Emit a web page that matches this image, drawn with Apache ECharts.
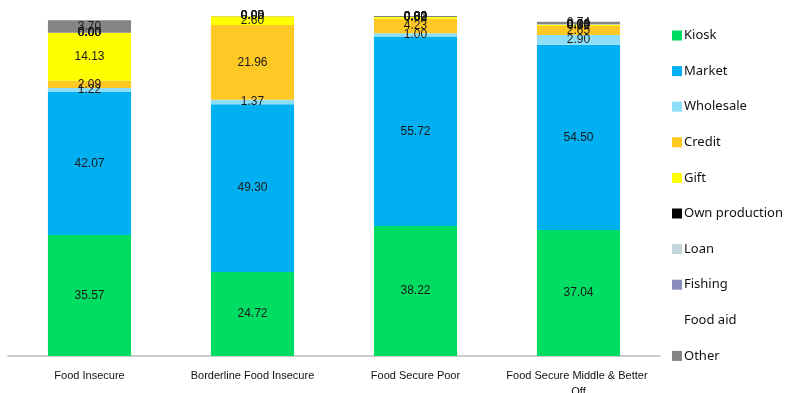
<!DOCTYPE html>
<html>
<head>
<meta charset="utf-8">
<script src="https://cdn.jsdelivr.net/npm/echarts@6/dist/echarts.min.js"></script>
<style>
  html, body { margin: 0; padding: 0; background: #fff; }
  #chart { width: 787px; height: 393px; }
</style>
</head>
<body>
<div id="chart"></div>
<script>
const categories = ['Food Insecure', 'Borderline Food Insecure', 'Food Secure Poor', 'Food Secure Middle & Better Off']

const kiosk = [35.57, 24.72, 38.22, 37.04]
const market = [42.07, 49.30, 55.72, 54.50]
const wholesale = [1.22, 1.37, 1.00, 2.90]
const credit = [2.09, 21.96, 4.23, 2.65]
const gift = [14.13, 2.60, 0.52, 0.31]
const ownProduction = [0.00, 0.00, 0.02, 0.00]
const loan = [0.00, 0.00, 0.00, 0.14]
const fishing = [0.00, 0.00, 0.00, 0.00]
const foodAid = [0.00, 0.00, 0.00, 0.00]
const other = [3.70, 0.05, 0.31, 0.74]

const seriesDefs = [
  { name: 'Kiosk', data: kiosk, color: '#00DD63' },
  { name: 'Market', data: market, color: '#00B0F0' },
  { name: 'Wholesale', data: wholesale, color: '#8EDEF8' },
  { name: 'Credit', data: credit, color: '#FFC925' },
  { name: 'Gift', data: gift, color: '#FFFF00' },
  { name: 'Own production', data: ownProduction, color: '#000000' },
  { name: 'Loan', data: loan, color: '#C3D6D9' },
  { name: 'Fishing', data: fishing, color: '#8A8CBC' },
  { name: 'Food aid', data: foodAid, color: '#FFFFFF' },
  { name: 'Other', data: other, color: '#848484' },
]

var chart = echarts.init(document.getElementById('chart'))
chart.setOption({
  animation: false,
  textStyle: { fontFamily: 'Liberation Sans, Arial, sans-serif' },
  grid: {
    left: 8,
    right: 127,
    top: 16,
    bottom: 37,
    outerBoundsMode: 'none',
  },
  legend: {
    orient: 'vertical',
    left: 667,
    top: 24,
    itemWidth: 10,
    itemHeight: 10,
    itemGap: 22.6,
    icon: 'rect',
    textStyle: { fontSize: 13, color: '#111', fontFamily: 'Noto Sans, sans-serif', padding: [0, 0, 0, -3] },
    data: seriesDefs.map(function (s) { return s.name }),
  },
  xAxis: {
    type: 'category',
    data: categories,
    axisLine: { lineStyle: { color: '#BDBDBD', width: 1.5 } },
    axisTick: { show: false },
    axisLabel: {
      color: '#111',
      fontSize: 11,
      margin: 12,
      width: 150,
      overflow: 'break',
      lineHeight: 16,
      interval: 0,
    },
  },
  yAxis: {
    type: 'value',
    min: 0,
    max: 100,
    show: false,
    splitLine: { show: false },
  },
  series: seriesDefs.map(function (s) {
    return {
      name: s.name,
      type: 'bar',
      stack: 'total',
      data: s.data,
      barWidth: '51%',
      itemStyle: { color: s.color },
      label: {
        show: true,
        position: 'inside',
        color: '#1a1a1a',
        fontSize: 12,
        formatter: function (p) { return p.value.toFixed(2) },
      },
    }
  }),
})
</script>
</body>
</html>
